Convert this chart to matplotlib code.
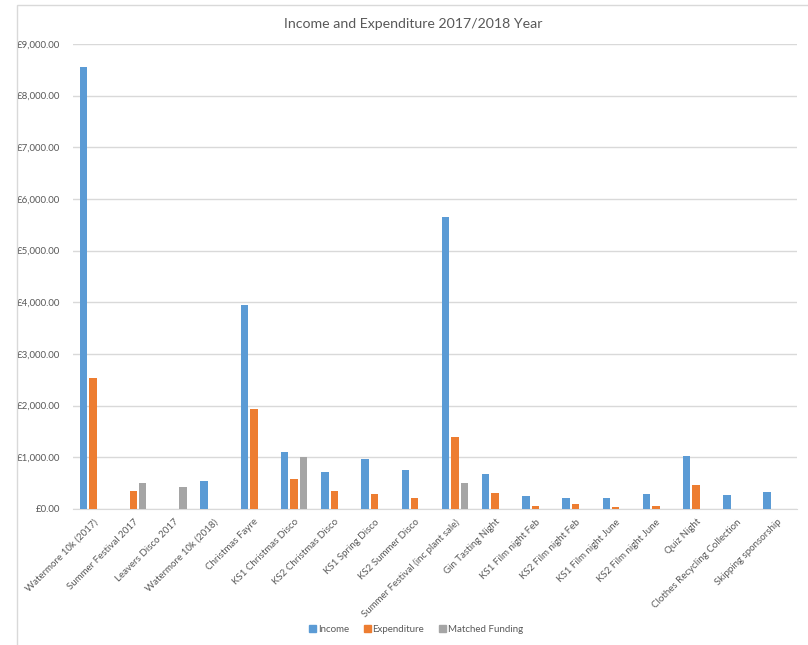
import numpy as np
import matplotlib.pyplot as plt
from matplotlib.patches import Rectangle
from matplotlib.ticker import FuncFormatter

categorias = [
    "Watermore 10k (2017)", "Summer Festival 2017", "Leavers Disco 2017",
    "Watermore 10k (2018)", "Christmas Fayre", "KS1 Christmas Disco",
    "KS2 Christmas Disco", "KS1 Spring Disco", "KS2 Summer Disco",
    "Summer Festival (inc plant sale)", "Gin Tasting Night", "KS1 Film night Feb",
    "KS2 Film night Feb", "KS1 Film night June", "KS2 Film night June",
    "Quiz Night", "Clothes Recycling Collection", "Skipping sponsorship",
]
income = [8550, 0, 0, 550, 3950, 1110, 720, 970, 750, 5650, 685, 255, 205, 205, 285, 1030, 265, 320]
expenditure = [2535, 350, 0, 0, 1930, 580, 350, 285, 220, 1385, 310, 55, 95, 45, 55, 465, 0, 0]
matched = [0, 500, 425, 0, 0, 1000, 0, 0, 0, 500, 0, 0, 0, 0, 0, 0, 0, 0]

series = [("Income", income, "#5B9BD5"),
          ("Expenditure", expenditure, "#ED7D31"),
          ("Matched Funding", matched, "#A5A5A5")]

plt.rcParams['font.family'] = ['Lato', 'DejaVu Sans']

fig = plt.figure(figsize=(8.08, 6.45), dpi=100)
ax = fig.add_axes([0.0903, 0.2109, 0.8957, 0.7209])

# borde exterior del grafico
fig.patches.append(Rectangle((17 / 808, -0.01), 1.0, 1 - 4.5 / 645 + 0.01,
                             transform=fig.transFigure, fill=False,
                             edgecolor="#d9d9d9", linewidth=1.0))

x = np.arange(len(categorias))
ancho = 0.185
paso = 0.236
for i, (nombre, valores, color) in enumerate(series):
    ax.bar(x + (i - 1) * paso, valores, width=ancho, color=color, label=nombre,
           zorder=3)

ax.set_xlim(-0.5, len(categorias) - 0.5)
ax.set_ylim(0, 9000)
ax.set_yticks(np.arange(0, 9001, 1000))
ax.yaxis.set_major_formatter(FuncFormatter(lambda v, p: f"£{v:,.2f}"))
ax.grid(axis='y', color="#d9d9d9", linewidth=1.0, zorder=0)

for lado in ['top', 'right', 'left']:
    ax.spines[lado].set_visible(False)
ax.spines['bottom'].set_color("#d9d9d9")

ax.set_xticks(x)
ax.set_xticklabels(categorias, rotation=45, ha='right', rotation_mode='anchor',
                   fontsize=7, color="#595959")
ax.tick_params(axis='x', length=0, pad=6)
ax.tick_params(axis='y', length=0, labelsize=7, labelcolor="#595959", pad=9)

fig.text(0.511, 0.963, "Income and Expenditure 2017/2018 Year", ha='center',
         va='center', fontsize=10.2, color="#595959")

handles = [Rectangle((0, 0), 1, 1, color=c) for _, _, c in series]
fig.legend(handles, [n for n, _, _ in series], loc='center',
           bbox_to_anchor=(0.515, 0.024), ncol=3, frameon=False, fontsize=7,
           labelcolor="#595959", handlelength=0.7, handleheight=0.7,
           handletextpad=0.2, columnspacing=1.5)

fig.savefig("out.png", dpi=100)
